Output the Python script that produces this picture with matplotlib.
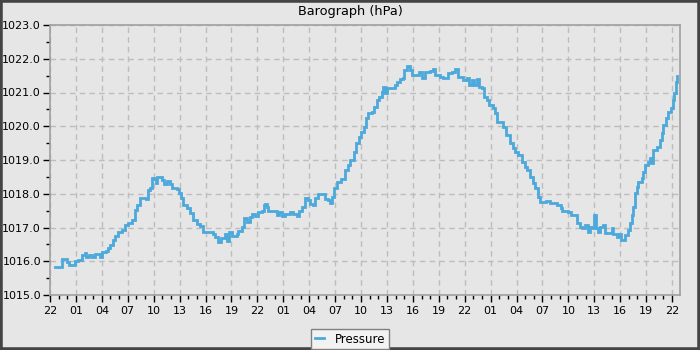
import matplotlib
matplotlib.use("Agg")
import matplotlib.pyplot as plt
from matplotlib.patches import Rectangle
from matplotlib.ticker import MultipleLocator, FuncFormatter

# hours since 22:00 of the first day
hours = [0.58, 1.27, 1.39, 1.85, 1.97, 2.20, 2.66, 2.89, 3.24, 3.70, 4.05, 4.17, 4.51, 4.86, 5.21,
         5.67, 5.79, 6.02, 6.48, 6.71, 6.94, 7.29, 7.52, 7.87, 8.33, 8.68, 9.03, 9.49, 9.84, 10.07,
         10.42, 11.11, 11.34, 11.57, 11.81, 12.04, 12.27, 12.38, 12.73, 12.96, 13.19, 13.54, 13.89,
         14.12, 14.70, 14.93, 15.16, 15.39, 15.86, 16.20, 16.55, 17.01, 17.36, 17.71, 18.29, 18.87,
         19.10, 19.44, 19.79, 20.25, 20.49, 20.72, 21.06, 21.64, 21.76, 22.22, 22.45, 22.80, 23.15,
         23.38, 23.73, 24.07, 24.54, 24.77, 24.88, 25.12, 25.23, 26.04, 26.27, 26.50, 26.85, 27.20,
         27.78, 28.13, 28.59, 28.82, 29.17, 29.51, 29.86, 30.09, 30.44, 30.67, 31.02, 31.48, 31.83,
         32.18, 32.41, 32.64, 32.87, 33.22, 33.68, 34.14, 34.49, 34.72, 35.19, 35.42, 35.76, 35.99,
         36.34, 36.57, 36.81, 37.27, 37.50, 37.85, 38.08, 38.43, 38.54, 38.77, 39.00, 39.70, 39.93,
         40.16, 40.51, 40.86, 40.97, 41.32, 41.67, 41.90, 42.48, 42.71, 43.06, 43.40, 43.98, 44.33,
         44.56, 45.14, 45.49, 45.95, 46.06, 46.53, 46.88, 47.22, 47.80, 48.26, 48.50, 48.84, 49.07,
         49.42, 49.65, 50.00, 50.23, 50.58, 50.81, 51.27, 51.50, 51.74, 52.08, 52.43, 52.78, 53.24,
         53.59, 53.82, 54.17, 54.63, 54.98, 55.21, 55.56, 55.90, 56.13, 56.48, 56.71, 57.06, 57.41,
         57.87, 58.22, 58.68, 59.14, 59.26, 59.95, 60.30, 60.76, 61.00, 61.34, 61.57, 61.92, 62.27,
         62.50, 62.85, 62.96, 63.19, 63.43, 63.66, 64.00, 64.24, 64.81, 65.05, 65.16, 65.63, 65.86,
         66.09, 66.44, 66.55, 66.90, 67.13, 67.36, 67.48, 67.71, 67.94, 68.06, 68.52, 68.63, 68.87,
         69.21, 69.44, 69.56, 69.79, 70.25, 70.60, 70.83, 70.95, 71.30, 71.53, 71.88, 72.11, 72.22,
         72.45, 72.57]

pressure = [1015.84, 1015.84, 1016.07, 1016.07, 1015.98, 1015.89, 1015.89, 1016.01, 1016.05, 1016.19,
            1016.24, 1016.14, 1016.20, 1016.14, 1016.21, 1016.21, 1016.14, 1016.27, 1016.29, 1016.38,
            1016.48, 1016.63, 1016.75, 1016.87, 1016.93, 1017.07, 1017.13, 1017.22, 1017.52, 1017.67,
            1017.87, 1017.84, 1018.11, 1018.17, 1018.47, 1018.44, 1018.32, 1018.50, 1018.50, 1018.41,
            1018.29, 1018.39, 1018.29, 1018.17, 1018.14, 1018.02, 1017.87, 1017.67, 1017.58, 1017.43,
            1017.22, 1017.10, 1017.04, 1016.88, 1016.88, 1016.81, 1016.72, 1016.58, 1016.69, 1016.81,
            1016.60, 1016.88, 1016.75, 1016.81, 1016.90, 1017.02, 1017.28, 1017.16, 1017.32, 1017.40,
            1017.34, 1017.47, 1017.50, 1017.67, 1017.69, 1017.61, 1017.50, 1017.50, 1017.37, 1017.46,
            1017.34, 1017.40, 1017.46, 1017.40, 1017.34, 1017.49, 1017.62, 1017.87, 1017.81, 1017.70,
            1017.67, 1017.87, 1017.99, 1017.99, 1017.84, 1017.81, 1017.73, 1017.90, 1018.16, 1018.36,
            1018.44, 1018.70, 1018.85, 1019.00, 1019.25, 1019.49, 1019.68, 1019.84, 1019.98, 1020.24,
            1020.38, 1020.42, 1020.58, 1020.78, 1020.87, 1021.02, 1021.17, 1020.98, 1021.12, 1021.12,
            1021.22, 1021.30, 1021.40, 1021.42, 1021.67, 1021.79, 1021.67, 1021.52, 1021.52, 1021.60,
            1021.44, 1021.60, 1021.64, 1021.70, 1021.52, 1021.47, 1021.42, 1021.44, 1021.57,
            1021.61, 1021.70, 1021.47, 1021.37, 1021.42, 1021.22, 1021.37, 1021.22, 1021.40, 1021.17,
            1021.12, 1020.88, 1020.78, 1020.63, 1020.53, 1020.39, 1020.13, 1020.13, 1019.99, 1019.74,
            1019.49, 1019.35, 1019.25, 1019.15, 1018.95, 1018.80, 1018.70, 1018.51, 1018.31, 1018.17,
            1017.91, 1017.76, 1017.76, 1017.79, 1017.72, 1017.72, 1017.67, 1017.58, 1017.50, 1017.47,
            1017.37, 1017.37, 1017.12, 1017.02, 1016.98, 1017.07, 1016.88, 1017.01, 1016.98, 1017.37,
            1016.98, 1016.88, 1017.02, 1017.07, 1016.83, 1016.83, 1016.98, 1016.81, 1016.73, 1016.81,
            1016.63, 1016.63, 1016.78, 1016.93, 1017.12, 1017.37, 1017.61, 1018.01, 1018.21, 1018.36,
            1018.46, 1018.65, 1018.85, 1018.95, 1019.05, 1018.91, 1019.30, 1019.39, 1019.59, 1019.79,
            1020.04, 1020.24, 1020.43, 1020.53, 1020.78, 1020.98, 1021.32, 1021.49]

start_hour = 22
x_end = 72.92
y_min, y_max = 1015.0, 1023.0

bg = "#e6e6e6"
line_color = "#4ca9db"

fig = plt.figure(figsize=(7, 3.5), dpi=100)
fig.patch.set_facecolor(bg)
ax = fig.add_axes([50 / 700, 55 / 350, 630 / 700, 270 / 350])
ax.set_facecolor(bg)

ax.plot(hours, pressure, color=line_color, lw=2.0, drawstyle="steps-post",
        solid_joinstyle="miter", label="Pressure")

ax.set_xlim(0, x_end)
ax.set_ylim(y_min, y_max)

ax.xaxis.set_major_locator(MultipleLocator(3))
ax.xaxis.set_minor_locator(MultipleLocator(1))
ax.xaxis.set_major_formatter(FuncFormatter(lambda v, p: f"{(int(round(v)) + start_hour) % 24:02d}"))
ax.yaxis.set_major_locator(MultipleLocator(1))
ax.yaxis.set_minor_locator(MultipleLocator(0.5))
ax.yaxis.set_major_formatter(FuncFormatter(lambda v, p: f"{v:.1f}"))

ax.grid(True, which="major", color="#bdbdbd", linestyle=(0, (4, 3)), linewidth=1.0)
ax.set_axisbelow(True)

for s in ax.spines.values():
    s.set_color("#a0a0a0")
    s.set_linewidth(1.2)

ax.tick_params(axis="both", which="major", length=5, width=1, color="black",
               labelsize=8, labelcolor="black")
ax.tick_params(axis="y", which="major", pad=1.5)
ax.tick_params(axis="x", which="major", pad=3)
ax.tick_params(axis="both", which="minor", length=3, width=1, color="black")

fig.text(0.5, 1 - 12 / 350, "Barograph (hPa)", fontsize=9.3, ha="center", va="center",
         color="black")

leg = fig.legend(loc="upper center", bbox_to_anchor=(0.5, 1 - 329 / 350), fontsize=8.5,
                 frameon=True, fancybox=False, edgecolor="#808080", facecolor="#f2f2f2",
                 framealpha=1.0, handlelength=0.8, borderpad=0.3, handletextpad=0.9,
                 borderaxespad=0.0)
leg.get_frame().set_linewidth(1.0)

fig.add_artist(Rectangle((0, 0), 1, 1, transform=fig.transFigure, fill=False,
                         edgecolor="#444444", linewidth=4))

fig.savefig("out.png", dpi=100, facecolor=bg)
